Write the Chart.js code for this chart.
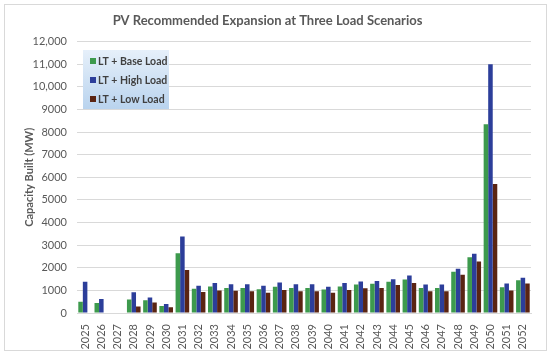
<!DOCTYPE html>
<html>
<head>
<meta charset="utf-8">
<script src="https://cdn.jsdelivr.net/npm/chart.js@4.4.1/dist/chart.umd.min.js"></script>
<style>
  html, body { margin: 0; padding: 0; background: #fff; }
  #wrap { position: relative; width: 550px; height: 355px; }
</style>
</head>
<body>
<div id="wrap"><canvas id="chart" width="550" height="355"></canvas></div>
<script>
const years = ['2025', '2026', '2027', '2028', '2029', '2030', '2031', '2032', '2033', '2034',
  '2035', '2036', '2037', '2038', '2039', '2040', '2041', '2042', '2043', '2044',
  '2045', '2046', '2047', '2048', '2049', '2050', '2051', '2052'];

const baseLoad = [500, 440, null, 600, 560, 310, 2640, 1070, 1170, 1110,
  1110, 1050, 1160, 1110, 1110, 1040, 1170, 1260, 1290, 1380,
  1480, 1110, 1110, 1820, 2460, 8350, 1140, 1450];

const highLoad = [1380, 620, null, 920, 680, 400, 3380, 1200, 1330, 1270,
  1270, 1200, 1350, 1270, 1270, 1160, 1330, 1390, 1420, 1490,
  1660, 1260, 1260, 1960, 2620, 11000, 1300, 1560];

const lowLoad = [null, null, null, 290, 460, 250, 1900, 930, 990, 980,
  960, 900, 1020, 960, 960, 900, 1020, 1090, 1110, 1240,
  1330, 960, 960, 1690, 2280, 5700, 990, 1300];

const yTickLabels = ['0', '1000', '2000', '3000', '4000', '5000', '6000',
  '7000', '8000', '9000', '10,000', '11,000', '12,000'];

const seriesNames = ['LT + Base Load', 'LT + High Load', 'LT + Low Load'];
const seriesColors = ['#3d9a4d', '#2c3e9a', '#5a2412'];

const FONT = 'Lato, "Open Sans", sans-serif';
const TEXT = '#595959';

// frame round the whole picture
const framePlugin = {
  id: 'frame',
  beforeDraw(chart) {
    const ctx = chart.ctx;
    ctx.save();
    ctx.strokeStyle = '#d9d9d9';
    ctx.lineWidth = 1;
    ctx.strokeRect(4.5, 4.5, 542, 346);
    ctx.restore();
  }
};

// stacked legend box inside the plot, top left
const boxLegend = {
  id: 'boxLegend',
  afterDatasetsDraw(chart) {
    const ctx = chart.ctx;
    const x = 83, y = 50, w = 86, h = 59;
    ctx.save();
    const g = ctx.createLinearGradient(0, y, 0, y + h);
    g.addColorStop(0, '#e6f0fa');
    g.addColorStop(1, '#b9d3ee');
    ctx.fillStyle = g;
    ctx.fillRect(x, y, w, h);

    ctx.font = 'bold 10.5px ' + FONT;
    ctx.textBaseline = 'middle';
    ctx.textAlign = 'left';
    chart.data.datasets.forEach((ds, i) => {
      const cy = y + 11 + i * 19;
      ctx.fillStyle = ds.backgroundColor;
      ctx.fillRect(x + 7, cy - 3, 6, 6);
      ctx.fillStyle = '#404040';
      ctx.fillText(ds.label, x + 15, cy + 0.5);
    });
    ctx.restore();
  }
};

const datasets = [baseLoad, highLoad, lowLoad].map((values, i) => ({
  label: seriesNames[i],
  data: values,
  backgroundColor: seriesColors[i],
  borderWidth: 0,
  barPercentage: 1.0,
  categoryPercentage: 0.84
}));

new Chart(document.getElementById('chart'), {
  type: 'bar',
  data: { labels: years, datasets: datasets },
  plugins: [framePlugin, boxLegend],
  options: {
    responsive: false,
    animation: false,
    layout: { padding: { left: 4, right: 19, top: 0, bottom: 4 } },
    plugins: {
      legend: { display: false },
      tooltip: { enabled: false },
      title: {
        display: true,
        text: 'PV Recommended Expansion at Three Load Scenarios',
        color: TEXT,
        font: { family: FONT, size: 13, weight: 'bold' },
        padding: { top: 13, bottom: 13 }
      }
    },
    scales: {
      x: {
        grid: { display: false },
        border: { color: '#d9d9d9' },
        ticks: {
          color: TEXT,
          font: { family: FONT, size: 11 },
          maxRotation: 90,
          minRotation: 90,
          autoSkip: false,
          padding: 3
        },
        afterFit(scale) { scale.height = 38; }
      },
      y: {
        min: 0,
        max: 12000,
        border: { display: false },
        grid: { color: '#d9d9d9', drawTicks: false },
        ticks: {
          stepSize: 1000,
          color: TEXT,
          font: { family: FONT, size: 11 },
          padding: 10,
          callback: (v, idx) => yTickLabels[idx]
        },
        title: {
          display: true,
          text: 'Capacity Built (MW)',
          color: TEXT,
          font: { family: FONT, size: 11, weight: 'bold' },
          padding: { top: 19, bottom: 0 }
        },
        afterFit(scale) { scale.width = 73; }
      }
    }
  }
});
</script>
</body>
</html>
